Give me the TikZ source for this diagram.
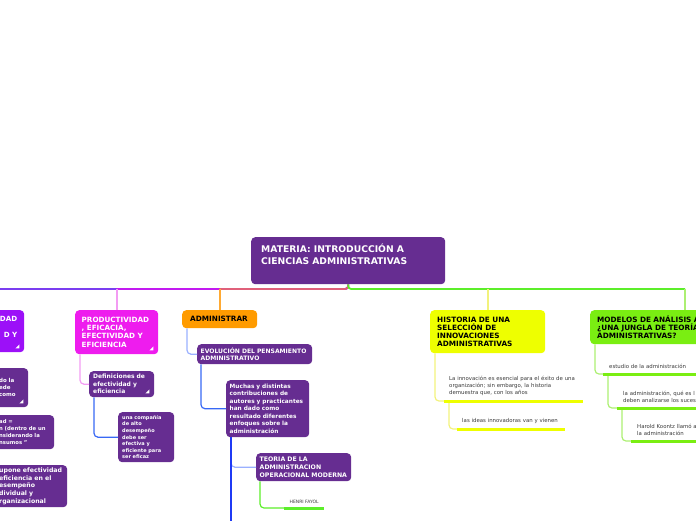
\documentclass[tikz,border=0pt]{standalone}
\usepackage{fontspec}
\setmainfont{DejaVu Sans}
\usetikzlibrary{calc}
\definecolor{mmPurple}{HTML}{662D91}
\definecolor{mmViolet}{HTML}{9C10F8}
\definecolor{mmMagenta}{HTML}{EE1CEE}
\definecolor{mmOrange}{HTML}{FF9B00}
\definecolor{mmYellow}{HTML}{EEFF00}
\definecolor{mmGreen}{HTML}{7AEE12}
\definecolor{mmText}{HTML}{3A3A3A}
\definecolor{lnViolet}{HTML}{7B3EF0}
\definecolor{lnMag}{HTML}{C21AF0}
\definecolor{lnCoral}{HTML}{E0607A}
\definecolor{lnGreen}{HTML}{5CEE2A}
\definecolor{lnPink}{HTML}{F39CF3}
\definecolor{lnOrange}{HTML}{FFAA33}
\definecolor{lnPaleYel}{HTML}{F2F27C}
\definecolor{lnPaleGrn}{HTML}{ACEF72}
\definecolor{lnBlue}{HTML}{3868F5}
\definecolor{lnLtBlue}{HTML}{9AB0FF}
\definecolor{lnDkBlue}{HTML}{1F3AF5}
\newcommand\fsz[2]{\fontsize{#1}{#2}\selectfont}
\newcommand\foldmark[1]{\fill[white] ($(#1.south east)+(-5,-4)$) -- ++(0,-4) -- ++(-4,4) -- cycle;}

\begin{document}
\begin{tikzpicture}[
  x=1pt, y=-1pt,
  topic/.style={rounded corners=4pt, anchor=north west, align=left, inner sep=0pt, text=white},
  sub/.style={topic, fill=mmPurple},
  leaf/.style={anchor=south west, align=left, inner xsep=6pt, inner ysep=5.5pt, text=mmText, text width=90pt, font=\fsz{5.4}{6.6}},
  link/.style={line width=1.2pt, rounded corners=4pt},
  bar/.style={line width=1.8pt, rounded corners=3pt},
  uline/.style={line width=3pt}
]
\useasboundingbox (0,0) rectangle (696,520);
\clip (0,0) rectangle (696,520);
\coordinate (bar) at (0,289);

% central topic
\node[sub, minimum width=194pt, minimum height=47pt, text width=174pt, font=\bfseries\fsz{9.2}{12}] (main) at (251,237)
  {MATERIA: INTRODUCCIÓN A\\CIENCIAS ADMINISTRATIVAS\\ \mbox{}};

% main branches
\node[topic, fill=mmViolet, minimum width=84pt, minimum height=42pt, text width=70pt, align=right, font=\bfseries\fsz{7.1}{8}] (soc) at (-60,310)
  {EDAD\\ \mbox{}\\D Y\\ \mbox{}};
\node[topic, fill=mmMagenta, minimum width=83pt, minimum height=44pt, text width=70pt, font=\bfseries\fsz{7.2}{8.3}] (prod) at (75,310)
  {PRODUCTIVIDAD\\, EFICACIA,\\EFECTIVIDAD Y\\EFICIENCIA};
\node[topic, fill=mmOrange, text=black, minimum width=75pt, minimum height=18pt, text width=59pt, font=\bfseries\fsz{7.3}{8}] (admin) at (182,310)
  {ADMINISTRAR};
\node[topic, fill=mmYellow, text=black, minimum width=115pt, minimum height=43pt, text width=101pt, font=\bfseries\fsz{7.3}{8}] (hist) at (430,310)
  {HISTORIA DE UNA\\SELECCIÓN DE\\INNOVACIONES\\ADMINISTRATIVAS};
\node[topic, fill=mmGreen, text=black, minimum width=190pt, minimum height=34pt, text width=176pt, font=\bfseries\fsz{7.3}{8}] (mod) at (590,310)
  {MODELOS DE ANÁLISIS A\\¿UNA JUNGLA DE TEORÍA\\ADMINISTRATIVAS?};

% left column (cut by the edge)
\node[sub, minimum width=33pt, minimum height=39pt, text width=25pt, font=\bfseries\fsz{5.5}{7}] (socA) at (-5,368)
  {do la\\ede\\como};
\node[sub, minimum width=59pt, minimum height=34pt, text width=51pt, font=\bfseries\fsz{5.3}{7}] (socB) at (-5,415)
  {ad =\\n (dentro de un\\nsiderando la\\nsumos ''};
\node[sub, minimum width=72pt, minimum height=42pt, text width=64pt, font=\bfseries\fsz{6.2}{7.7}] (socC) at (-5,465)
  {upone efectividad\\eficiencia en el\\esempeño\\dividual y\\rganizacional};

% subtopics
\node[sub, minimum width=65pt, minimum height=26pt, text width=57pt, font=\bfseries\fsz{6}{7.5}] (defs) at (89,371)
  {Definiciones de\\efectividad y\\eficiencia};
\node[sub, minimum width=56pt, minimum height=50pt, text width=48pt, font=\bfseries\fsz{5}{6.6}] (cia) at (118,412)
  {una compañía\\de alto\\desempeño\\debe ser\\efectiva y\\eficiente para\\ser eficaz};
\node[sub, minimum width=115pt, minimum height=20pt, text width=108pt, font=\bfseries\fsz{6.05}{7}] (evol) at (197,344)
  {EVOLUCIÓN DEL PENSAMIENTO\\ADMINISTRATIVO};
\node[sub, minimum width=83pt, minimum height=57pt, text width=76pt, font=\bfseries\fsz{5.8}{7.5}] (much) at (226,380)
  {Muchas y distintas\\contribuciones de\\autores y practicantes\\han dado como\\resultado diferentes\\enfoques sobre la\\administración};
\node[sub, minimum width=95pt, minimum height=28pt, text width=88pt, font=\bfseries\fsz{6.2}{7.6}] (teor) at (256,453)
  {TEORIA DE LA\\ADMINISTRACION\\OPERACIONAL MODERNA};
\coordinate (more) at (231,530);

% leaves
\node[leaf, text width=30pt, inner xsep=5pt, align=center, inner ysep=4.5pt, font=\fsz{4.5}{5.5}] (fayol) at (284,508) {HENRI FAYOL};
\node[leaf, text width=129pt, inner xsep=5pt] (l1) at (444,401)
  {La innovación es esencial para el éxito de una\\organización; sin embargo, la historia\\demuestra que, con los años};
\node[leaf, text width=98pt, inner xsep=5pt] (l2) at (457,429) {las ideas innovadoras van y vienen};
\foreach \i/\x/\y/\t in {1/603/374/{estudio de la administración},
    2/617/408/{la administración, qué es l\\deben analizarse los suces},
    3/631/441/{Harold Koontz llamó a\\la administración}}
  \node[leaf] (r\i) at (\x,\y) {\t};

% top bar
\draw[bar, lnViolet] (main.south) |- (soc.north |- bar) -- (soc.north);
\draw[bar, lnMag] (main.south) |- (prod.north |- bar);
\draw[bar, lnPink] (prod.north |- bar) -- (prod.north);
\draw[bar, lnCoral] (main.south) |- (admin.north |- bar);
\draw[bar, lnOrange] (admin.north |- bar) -- (admin.north);
\draw[bar, lnGreen] (main.south) |- (mod.north |- bar);
\draw[bar, lnPaleYel] (hist.north |- bar) -- (hist.north);
\draw[bar, lnPaleGrn] (mod.north |- bar) -- (mod.north);

% connectors
\draw[link, lnPink] ($(prod.south west)+(5,0)$) |- (defs.west);
\draw[link, lnBlue] ($(defs.south west)+(5,0)$) |- (cia.west);
\draw[link, lnLtBlue] ($(admin.south west)+(5,0)$) |- (evol.west);
\draw[link, lnBlue] ($(evol.south west)+(4,0)$) |- (much.west);
\draw[link, lnLtBlue] ($(much.south west)+(5,0)$) |- (teor.west);
\draw[link, lnDkBlue] ($(much.south west)+(5,0)$) -- (more);
\draw[link, lnGreen] ($(teor.south west)+(4,0)$) |- (fayol.south west);
\draw[link, lnPaleYel] ($(hist.south west)+(5,0)$) |- (l1.south west);
\draw[link, lnPaleYel] ($(l1.south west)+(5,0)$) |- (l2.south west);
\draw[link, lnPaleGrn] ($(mod.south west)+(5,0)$) |- (r1.south west);
\foreach \a/\b in {r1/r2, r2/r3} \draw[link, lnPaleGrn] ($(\a.south west)+(5,0)$) |- (\b.south west);

% underlines
\draw[uline, lnGreen] (fayol.south west) -- (fayol.south east);
\foreach \n in {l1, l2} \draw[uline, mmYellow] (\n.south west) -- (\n.south east);
\foreach \n in {r1, r2, r3} \draw[uline, mmGreen] (\n.south west) -- (\n.south east);

% fold marks
\foreach \n in {soc, socA, prod, defs} {\foldmark{\n}}
\end{tikzpicture}
\end{document}
